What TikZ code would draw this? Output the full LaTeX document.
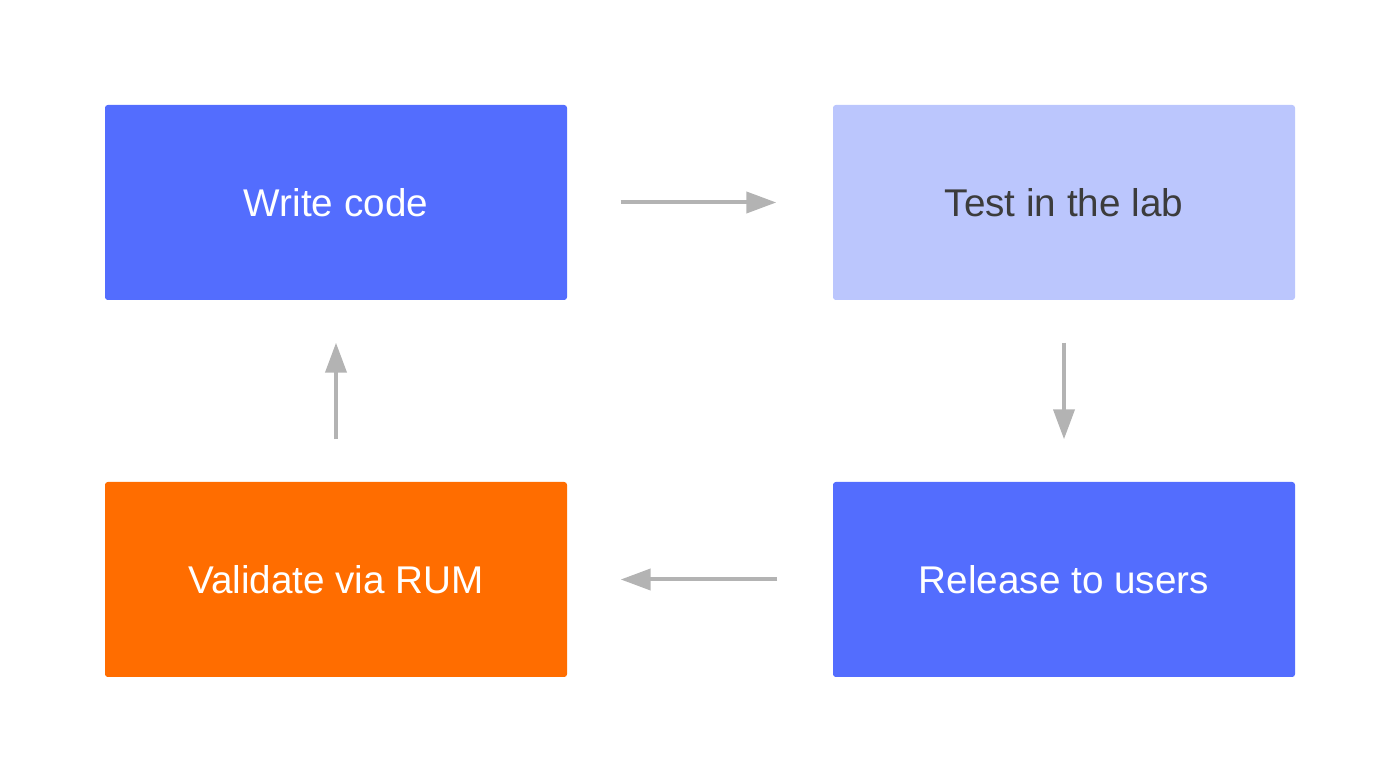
\documentclass[tikz,border=0pt]{standalone}
\usepackage{fontspec}
\setmainfont{Liberation Sans}
\usetikzlibrary{arrows.meta}
\definecolor{indigo}{HTML}{536DFE}
\definecolor{lightindigo}{HTML}{BBC6FD}
\definecolor{rumorange}{HTML}{FF6D00}
\definecolor{arrowgray}{HTML}{B3B3B3}
\definecolor{textgray}{HTML}{3C3C3C}
\begin{document}
\begin{tikzpicture}[>={Triangle[length=3mm,width=2.1mm]},
    box/.style={rounded corners=.8pt, minimum width=4.62cm, minimum height=1.95cm, inner sep=0pt, font=\fontsize{11}{13}\selectfont},
    arr/.style={->, arrowgray, line width=.4mm}]
\useasboundingbox (0,0) rectangle (14,-7.83);
\node[box, fill=indigo, text=white] (write) at (3.36,-2.025){Write code};
\node[box, fill=lightindigo, text=textgray] (test) at (10.64,-2.025){Test in the lab};
\node[box, fill=indigo, text=white] (release) at (10.64,-7.795+2.0){Release to users};
\node[box, fill=rumorange, text=white] (validate) at (3.36,-5.795){Validate via RUM};
\draw[arr, shorten <=5.3mm, shorten >=5.6mm] (write)--(test);
\draw[arr, shorten <=4.2mm, shorten >=4.2mm] (test)--(release);
\draw[arr, shorten <=5.5mm, shorten >=5.3mm] (release)--(validate);
\draw[arr, shorten <=4.2mm, shorten >=4.2mm] (validate)--(write);
\end{tikzpicture}
\end{document}
